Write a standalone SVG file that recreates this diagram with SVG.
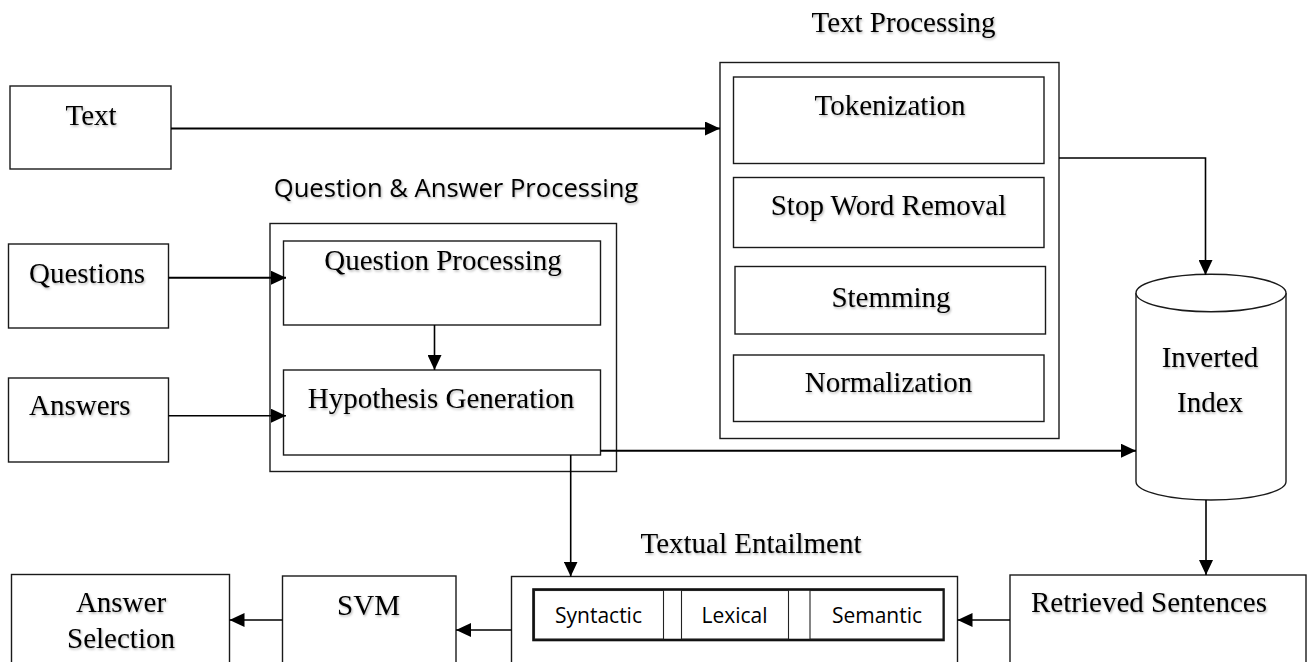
<svg xmlns="http://www.w3.org/2000/svg" width="1311" height="662" viewBox="0 0 1311 662">
  <style>
    .box { fill: #fff; stroke: #1a1a1a; stroke-width: 1.4; }
    .frame { fill: none; stroke: #1a1a1a; stroke-width: 1.4; }
    .strip { fill: #fff; stroke: #111; stroke-width: 2.6; }
    .cell { fill: #fff; stroke: #222; stroke-width: 1.1; }
    .serif { font-family: "Liberation Serif", "Times New Roman", serif; font-size: 29px; fill: #000; text-anchor: middle; filter: url(#shade); }
    .sans { font-family: "Open Sans", "Noto Sans", sans-serif; fill: #000; text-anchor: middle; }
    .wire { fill: none; stroke: #000; stroke-width: 1.6; }
    .wire.thick { stroke-width: 2; }
  </style>
  <defs>
    <filter id="shade" x="-10%" y="-30%" width="130%" height="170%">
      <feDropShadow dx="1" dy="1.5" stdDeviation="0.9" flood-color="#000" flood-opacity="0.3"/>
    </filter>
    <marker id="head" markerUnits="userSpaceOnUse" markerWidth="16" markerHeight="14" refX="15" refY="7" orient="auto">
      <path d="M0,0 L15,7 L0,14 Z" fill="#000"/>
    </marker>
  </defs>

  <rect width="1311" height="662" fill="#fff"/>

  <!-- input: Text -->
  <g id="text-input">
    <rect class="box" x="10" y="86" width="161" height="83"/>
    <text class="serif" x="91" y="125">Text</text>
  </g>

  <!-- input: Questions -->
  <g id="questions">
    <rect class="box" x="8.5" y="244" width="160" height="84"/>
    <text class="serif" x="29" y="283" style="text-anchor:start">Questions</text>
  </g>

  <!-- input: Answers -->
  <g id="answers">
    <rect class="box" x="8.5" y="378" width="160" height="84"/>
    <text class="serif" x="29" y="415" style="text-anchor:start">Answers</text>
  </g>

  <!-- Question & Answer Processing group -->
  <g id="qa-processing">
    <text class="sans" x="456" y="197" font-size="25.6" style="filter:url(#shade)">Question &amp; Answer Processing</text>
    <rect class="frame" x="270" y="223.5" width="346.5" height="248"/>
    <g id="question-processing">
      <rect class="box" x="283.5" y="241" width="317" height="84"/>
      <text class="serif" x="443" y="270" font-size="30.5">Question Processing</text>
    </g>
    <g id="hypothesis-generation">
      <rect class="box" x="283.5" y="370" width="317" height="85"/>
      <text class="serif" x="441" y="408">Hypothesis Generation</text>
    </g>
  </g>

  <!-- Text Processing group -->
  <g id="text-processing">
    <text class="serif" x="903.5" y="32">Text Processing</text>
    <rect class="frame" x="720" y="62.5" width="339" height="376"/>
    <g id="tokenization">
      <rect class="box" x="733.5" y="77" width="310.5" height="86.5"/>
      <text class="serif" x="890" y="115">Tokenization</text>
    </g>
    <g id="stop-word-removal">
      <rect class="box" x="733.5" y="177.5" width="310.5" height="70"/>
      <text class="serif" x="888.5" y="215">Stop Word Removal</text>
    </g>
    <g id="stemming">
      <rect class="box" x="735" y="266.5" width="310.5" height="67.5"/>
      <text class="serif" x="891" y="307" font-size="32">Stemming</text>
    </g>
    <g id="normalization">
      <rect class="box" x="733.5" y="355" width="310.5" height="66.5"/>
      <text class="serif" x="888.5" y="392">Normalization</text>
    </g>
  </g>

  <!-- Inverted Index store -->
  <g id="inverted-index">
    <path class="box" d="M1136,293 L1136,481.5 A75,18.5 0 0 0 1286,481.5 L1286,293"/>
    <ellipse class="box" cx="1211" cy="293" rx="75" ry="18.7"/>
    <text class="serif" x="1210" y="367">Inverted</text>
    <text class="serif" x="1210" y="412">Index</text>
  </g>

  <!-- Retrieved Sentences -->
  <g id="retrieved-sentences">
    <rect class="box" x="1010" y="575" width="296" height="100"/>
    <text class="serif" x="1149" y="612" font-size="30.5">Retrieved Sentences</text>
  </g>

  <!-- Textual Entailment -->
  <g id="textual-entailment">
    <text class="serif" x="751" y="553">Textual Entailment</text>
    <rect class="box" x="511.5" y="576.5" width="446" height="100"/>
    <rect class="strip" x="533.5" y="589.5" width="410" height="50.5"/>
    <rect class="cell" x="534.5" y="590.5" width="129" height="48.5"/>
    <rect class="cell" x="681.5" y="590.5" width="107" height="48.5"/>
    <rect class="cell" x="810" y="590.5" width="133" height="48.5"/>
    <text class="sans" x="598.5" y="623" font-size="21">Syntactic</text>
    <text class="sans" x="734.5" y="623" font-size="21">Lexical</text>
    <text class="sans" x="877" y="623" font-size="21">Semantic</text>
  </g>

  <!-- SVM -->
  <g id="svm">
    <rect class="box" x="282.5" y="576" width="173.5" height="100"/>
    <text class="serif" x="368.5" y="615">SVM</text>
  </g>

  <!-- Answer Selection -->
  <g id="answer-selection">
    <rect class="box" x="11.5" y="574.5" width="218" height="100"/>
    <text class="serif" x="121" y="612" font-size="26.5">Answer</text>
    <text class="serif" x="121" y="647.5" font-size="26.5">Selection</text>
  </g>

  <!-- connectors -->
  <g id="connectors">
    <path class="wire thick" d="M171,128.5 L720,128.5" marker-end="url(#head)"/>
    <path class="wire thick" d="M168.5,277.7 L286,277.7" marker-end="url(#head)"/>
    <path class="wire" d="M168.5,415.7 L286,415.7" marker-end="url(#head)"/>
    <path class="wire" d="M434.5,325 L434.5,370" marker-end="url(#head)"/>
    <path class="wire" d="M1059,158 L1205.5,158 L1205.5,275" marker-end="url(#head)"/>
    <path class="wire thick" d="M600.5,450.7 L1136,450.7" marker-end="url(#head)"/>
    <path class="wire" d="M570.7,455 L570.7,576.5" marker-end="url(#head)"/>
    <path class="wire" d="M1206,500 L1206,575" marker-end="url(#head)"/>
    <path class="wire" d="M1010,620 L957.5,620" marker-end="url(#head)"/>
    <path class="wire" d="M511.5,630 L456,630" marker-end="url(#head)"/>
    <path class="wire" d="M282.5,620 L229.5,620" marker-end="url(#head)"/>
  </g>
</svg>
